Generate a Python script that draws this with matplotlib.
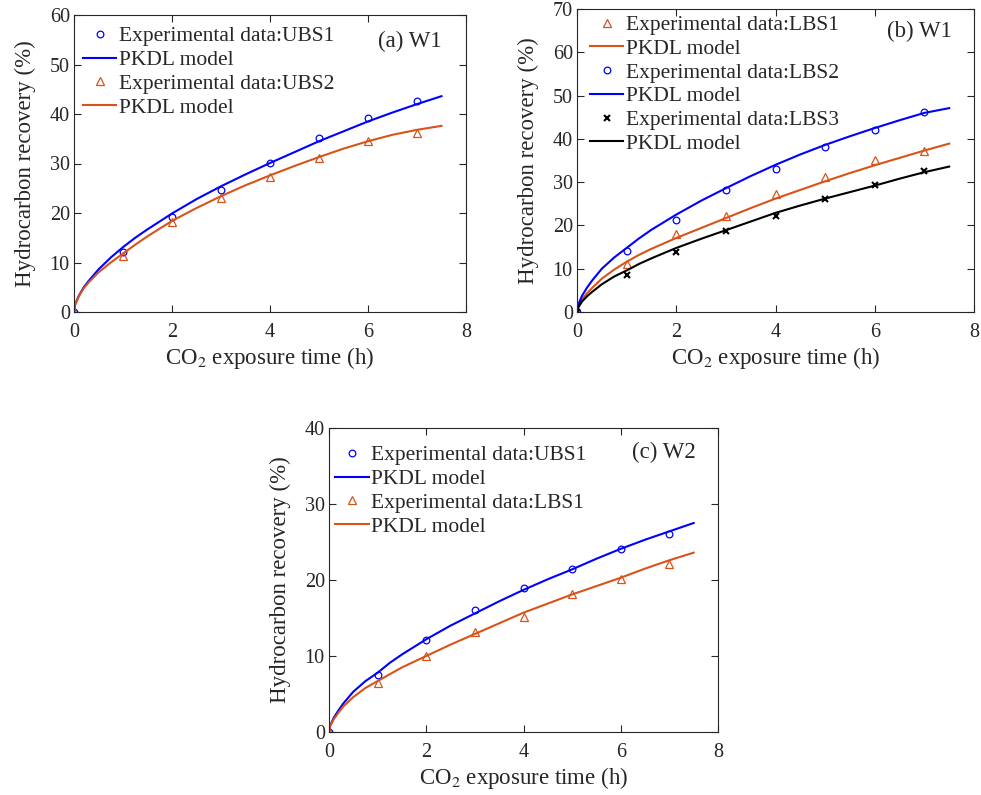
import matplotlib
matplotlib.use("Agg")
import matplotlib.pyplot as plt

plt.rcParams['font.family'] = ['Liberation Serif', 'DejaVu Serif']
plt.rcParams['mathtext.fontset'] = 'stix'

BLUE = '#0000ff'
ORANGE = '#d95319'
BLACK = '#000000'

# experimental points
t_exp = [0, 1, 2, 3, 4, 5, 6, 7]
a_ubs1 = [0, 12.1, 19.1, 24.6, 30.1, 35.1, 39.1, 42.7]
a_ubs2 = [0, 11.3, 18.2, 23.1, 27.2, 31.2, 34.6, 36.2]
b_lbs1 = [0, 11.2, 18.1, 22.2, 27.2, 31.2, 35.1, 37.3]
b_lbs2 = [0, 14.2, 21.2, 28.1, 33.1, 38.2, 42.1, 46.1]
b_lbs3 = [0, 8.5, 13.9, 18.6, 22.2, 26.1, 29.3, 32.5]
c_ubs1 = [0, 7.5, 12.1, 16.1, 19.0, 21.5, 24.1, 26.1]
c_lbs1 = [0, 6.5, 10.0, 13.1, 15.1, 18.1, 20.1, 22.1]

# model curves
t_mod = [0, 0.02, 0.05, 0.1, 0.2, 0.3, 0.5, 0.75, 1, 1.25, 1.5, 2, 2.5, 3, 3.5, 4, 4.5, 5, 5.5, 6, 6.5, 7, 7.5]
a_mod1 = [0, 1.4, 2.2, 3.3, 5.0, 6.3, 8.6, 11.0, 13.1, 15.0, 16.7, 19.9, 22.8, 25.4, 27.8, 30.1, 32.3, 34.5, 36.5, 38.5, 40.3, 42.0, 43.6]
a_mod2 = [0, 1.3, 2.1, 3.2, 4.8, 6.0, 8.0, 10.0, 11.8, 13.6, 15.3, 18.4, 21.0, 23.4, 25.6, 27.6, 29.5, 31.3, 33.0, 34.5, 35.8, 36.8, 37.6]
b_mod1 = [0, 1.1, 1.8, 2.9, 4.3, 5.5, 7.7, 9.8, 11.6, 13.2, 14.6, 17.1, 19.4, 21.7, 24.0, 26.2, 28.2, 30.2, 32.1, 33.9, 35.6, 37.3, 38.9]
b_mod2 = [0, 1.5, 2.4, 3.7, 5.6, 7.2, 10.0, 12.6, 14.8, 17.0, 19.0, 22.5, 25.7, 28.6, 31.4, 34.0, 36.4, 38.6, 40.6, 42.5, 44.3, 46.0, 47.1]
b_mod3 = [0, 0.9, 1.5, 2.4, 3.6, 4.6, 6.4, 8.2, 9.6, 11.1, 12.4, 14.8, 16.9, 18.9, 20.9, 22.9, 24.6, 26.2, 27.7, 29.2, 30.8, 32.3, 33.6]
c_mod1 = [0, 0.8, 1.2, 1.9, 2.9, 3.8, 5.3, 6.7, 7.8, 9.1, 10.2, 12.2, 14.0, 15.6, 17.2, 18.7, 20.1, 21.4, 22.8, 24.1, 25.3, 26.4, 27.5]
c_mod2 = [0, 0.7, 1.1, 1.7, 2.6, 3.4, 4.6, 5.8, 6.7, 7.6, 8.5, 10.0, 11.5, 12.9, 14.3, 15.7, 16.9, 18.1, 19.2, 20.3, 21.5, 22.6, 23.6]

fig = plt.figure(figsize=(9.81, 7.95), dpi=100)
W, H = 981, 795
TXT = '#262626'


def make_axes(x0, x1, y0, y1):
    return fig.add_axes([x0 / W, (H - y1) / H, (x1 - x0) / W, (y1 - y0) / H])


def style(ax, ymax, tag, tag_xy, leg_xy):
    ax.set_xlim(0, 8)
    ax.set_ylim(0, ymax)
    ax.set_xticks([0, 2, 4, 6, 8])
    ax.tick_params(direction='in', top=True, right=True, length=5, width=0.8,
                   labelsize=14.5, colors=TXT, labelcolor=TXT)
    ax.tick_params(axis='x', pad=8)
    ax.tick_params(axis='y', pad=3)
    for s in ax.spines.values():
        s.set_color(TXT)
        s.set_linewidth(0.8)
    ax.set_xlabel('CO$_2$ exposure time (h)', fontsize=16.5, labelpad=2, color=TXT)
    ax.set_ylabel('Hydrocarbon recovery (%)', fontsize=16.5, labelpad=10, color=TXT)
    ax.text(tag_xy[0], tag_xy[1], tag, transform=ax.transAxes, ha='right', va='center',
            fontsize=16.5, color=TXT)
    ax.legend(loc='upper left', bbox_to_anchor=leg_xy, frameon=False, fontsize=15.5,
              handlelength=1.55, handletextpad=0.12, labelspacing=0.17, borderpad=0,
              borderaxespad=0, numpoints=1, labelcolor=TXT)


def exp_pts(ax, y, color, marker, label):
    if marker == 'x':
        ax.plot(t_exp, y, linestyle='none', marker='x', ms=4.5, mew=1.5, color=color, label=label)
    elif marker == '^':
        ax.plot(t_exp, y, linestyle='none', marker='^', ms=5.5, mew=0.9,
                mfc='none', mec=color, label=label)
    else:
        ax.plot(t_exp, y, linestyle='none', marker='o', ms=4.8, mew=0.9,
                mfc='none', mec=color, label=label)


def model(ax, y, color):
    ax.plot(t_mod, y, color=color, lw=1.5, label='PKDL model')


# (a)
ax = make_axes(74, 466, 15, 312)
exp_pts(ax, a_ubs1, BLUE, 'o', 'Experimental data:UBS1')
model(ax, a_mod1, BLUE)
exp_pts(ax, a_ubs2, ORANGE, '^', 'Experimental data:UBS2')
model(ax, a_mod2, ORANGE)
style(ax, 60, '(a) W1', (0.939, 0.912), (0.023, 0.962))

# (b)
ax = make_axes(577, 974, 9, 312)
exp_pts(ax, b_lbs1, ORANGE, '^', 'Experimental data:LBS1')
model(ax, b_mod1, ORANGE)
exp_pts(ax, b_lbs2, BLUE, 'o', 'Experimental data:LBS2')
model(ax, b_mod2, BLUE)
exp_pts(ax, b_lbs3, BLACK, 'x', 'Experimental data:LBS3')
model(ax, b_mod3, BLACK)
ax.set_yticks(range(0, 71, 10))
style(ax, 70, '(b) W1', (0.945, 0.927), (0.033, 0.98))

# (c)
ax = make_axes(329, 718, 428, 732)
exp_pts(ax, c_ubs1, BLUE, 'o', 'Experimental data:UBS1')
model(ax, c_mod1, BLUE)
exp_pts(ax, c_lbs1, ORANGE, '^', 'Experimental data:LBS1')
model(ax, c_mod2, ORANGE)
ax.set_yticks(range(0, 41, 10))
style(ax, 40, '(c) W2', (0.943, 0.918), (0.016, 0.943))

fig.savefig('out.png', dpi=100)
